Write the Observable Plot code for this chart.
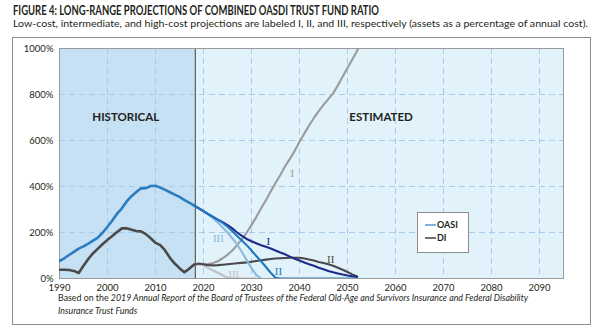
<!DOCTYPE html>
<html><head><meta charset="utf-8">
<script src="https://cdn.jsdelivr.net/npm/d3@7"></script>
<script src="https://cdn.jsdelivr.net/npm/@observablehq/plot@0.6"></script>
<style>
body{margin:0;width:600px;height:331px;position:relative;background:#fff;font-family:Lato,"Open Sans",sans-serif;overflow:hidden;color:#231f20}
.abs{position:absolute;white-space:nowrap;transform-origin:0 0}
#title{left:13px;top:3px;font-weight:bold;font-size:12.5px}
#sub{left:13px;top:17px;font-size:10px}
#frame{position:absolute;left:12px;top:37px;width:579px;height:288px;border:1px solid #8c8c8c;box-sizing:border-box}
#chart{position:absolute;left:0;top:37px}
#note{left:58px;top:292px;font-size:8.6px;line-height:13px}
#legend{position:absolute;left:417px;top:212px;width:52px;height:41px;border:1px solid #8c8c8c;background:#fff;box-sizing:border-box;font-size:9px;font-weight:bold}
.li{position:absolute;left:7px;display:flex;align-items:center}
.sw{width:11px;height:2px;margin-right:1px}
</style></head>
<body>
<div id="title" class="abs">FIGURE 4: LONG-RANGE PROJECTIONS OF COMBINED OASDI TRUST FUND RATIO</div>
<div id="sub" class="abs">Low-cost, intermediate, and high-cost projections are labeled I, II, and III, respectively (assets as a percentage of annual cost).</div>
<div id="frame"></div>
<div id="chart"></div>
<div id="legend"><div class="li" style="top:6px"><span class="sw" style="background:#80b1dd"></span>OASI</div><div class="li" style="top:19px"><span class="sw" style="background:#707070"></span>DI</div></div>
<div id="note" class="abs"><span id="n1">Based on the <i>2019 Annual Report of the Board of Trustees of the Federal Old-Age and Survivors Insurance and Federal Disability</i></span><br><span id="n2"><i>Insurance Trust Funds</i></span></div>
<script>
// ---- data ----
const histYears = [1990,1991,1992,1993,1994,1995,1996,1997,1998,1999,2000,2001,2002,2003,2004,2005,2006,2007,2008,2009,2010,2011,2012,2013,2014,2015,2016,2017,2018];
const oasiHist = [76,88,102,116,130,140,152,165,178,200,225,252,282,305,335,358,376,392,393,402,403,395,385,375,365,355,342,330,318];
const diHist   = [38,38,37,33,24,55,85,110,130,150,168,185,202,218,218,212,206,205,193,175,155,145,122,90,65,45,27,42,60];
const projYears = [2018,2019,2020,2021,2022,2023,2024,2025,2026,2027,2028,2029,2030,2031,2032,2033,2034,2035,2036,2037,2038,2039,2040,2041,2042,2043,2044,2045,2046,2047,2048,2049,2050,2051,2052,2053];
const oasiI   = [318,305,293,280,268,256,245,232,218,200,185,172,162,153,145,138,130,122,113,105,95,86,78,70,62,55,47,40,33,27,22,17,13,10,7];
const oasiII  = [318,306,293,280,267,255,242,225,205,185,165,145,122,98,75,50,25,3,0,0,0,0,0,0,0,0,0,0,0,0,0,0,0,0,0];
const oasiIII = [318,305,292,278,262,243,222,200,175,148,115,80,45,15,0];
const diI     = [60,63,62,63,67,75,88,103,122,145,170,200,232,267,305,340,378,415,450,488,520,555,595,630,665,698,728,755,780,805,840,878,915,952,990,1030];
const diII    = [60,65,62,58,57,58,60,62,64,66,68,70,73,76,79,82,85,87,88,89,90,90,90,87,83,78,72,67,62,55,47,38,28,18,9];
const diIII   = [60,63,58,45,35,25,14,4,0,0,0,0,0,0];
const xTicks = [1990,2000,2010,2020,2030,2040,2050,2060,2070,2080,2090];
const yTicks = [0,200,400,600,800,1000];
const periods = [{name:"HISTORICAL", start:1990, end:2018.3, mid:2003.8}, {name:"ESTIMATED", start:2018.3, end:2095, mid:2057}];
const numeralLabels = [
  {text:"III", series:"oasiIII", year:2023.1, value:174},
  {text:"I",   series:"oasiI",   year:2033.5, value:161},
  {text:"II",  series:"oasiII",  year:2035.6, value:32},
  {text:"III", series:"diIII",   year:2026.3, value:17},
  {text:"II",  series:"diII",    year:2046.5, value:82},
  {text:"I",   series:"diI",     year:2038.5, value:456}
];

// ---- build ----
const color = {oasiHist:"#2b7cc1", oasiII:"#1f78c1", oasiI:"#1e2a88", oasiIII:"#8db8df", diHist:"#4a4a4a", diII:"#4a4a4a", diI:"#9b9b9b", diIII:"#c0c0c0"};
function series(key, years, vals){ return vals.map((v,i)=>({key, year:years[i], value:v})); }
const lineData = [
  ...series("diIII", projYears, diIII),
  ...series("diI", projYears, diI),
  ...series("diII", projYears, diII),
  ...series("diHist", histYears, diHist),
  ...series("oasiIII", projYears, oasiIII),
  ...series("oasiI", projYears, oasiI),
  ...series("oasiII", projYears, oasiII),
  ...series("oasiHist", histYears, oasiHist)
];
const order = ["diIII","diI","diII","diHist","oasiIII","oasiI","oasiII","oasiHist"];

const chart = Plot.plot({
  width: 600, height: 260,
  marginTop: 11, marginBottom: 19, marginLeft: 59, marginRight: 37,
  style: {fontFamily: "Lato, 'Open Sans', sans-serif", background: "transparent", color:"#231f20"},
  x: {domain: [1990, 2095], axis: null, label: null},
  y: {domain: [0, 1000], axis: null, label: null},
  marks: [
    Plot.rect(periods, {x1:"start", x2:"end", y1:0, y2:1000, fill:(d,i)=> i===0 ? "#c6e0f4" : "#e1f2fb"}),
    Plot.gridX(xTicks, {stroke:"#a8cbe8", strokeOpacity:1, strokeDasharray:"6,4", strokeWidth:1}),
    Plot.gridY(yTicks, {stroke:"#a8cbe8", strokeOpacity:1, strokeDasharray:"6,4", strokeWidth:1}),
    Plot.text(periods, {x:"mid", y:700, text:"name", fontWeight:"bold", fontSize:11.5, fill:"#231f20"}),
    Plot.ruleX([periods[1].start], {stroke:"#5a5a5a", strokeWidth:1.2}),
    Plot.frame({stroke:"#9a9a9a"}),
    ...order.map(k => Plot.line(lineData.filter(d=>d.key===k && d.value!=null), {x:"year", y:"value", stroke: color[k], strokeWidth: k.endsWith("Hist") ? 2.6 : 2.1, clip:true})),
    Plot.text(numeralLabels, {x:"year", y:"value", text:"text", fill:d=>color[d.series], fontFamily:"'Liberation Serif', 'DejaVu Serif', serif", fontSize:11}),
    Plot.axisX(xTicks, {tickSize:0, tickPadding:6, tickFormat:d=>String(d), fontSize:9.5, fill:"#231f20", label:null}),
    Plot.axisY(yTicks, {tickSize:0, tickPadding:6, tickFormat:d=>d+"%", fontSize:9.5, fill:"#231f20", label:null})
  ]
});
document.getElementById("chart").appendChild(chart);

// fit text widths to reference
function fit(id, w){ const el=document.getElementById(id); const r=el.getBoundingClientRect().width; if(r>0) el.style.transform=`scaleX(${w/r})`; }
fit("title", 366);
fit("sub", 575);
fit("note", 470);
</script>
</body></html>
